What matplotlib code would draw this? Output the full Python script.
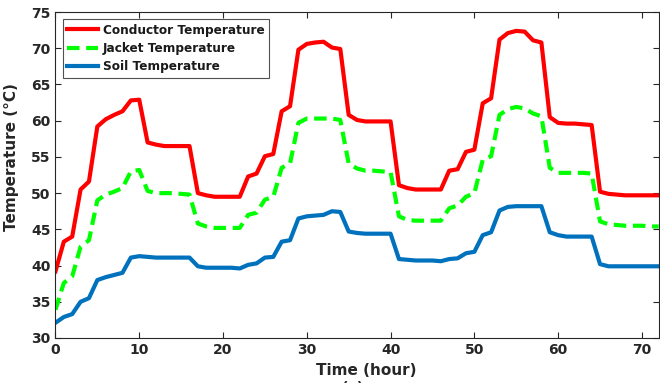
import matplotlib.pyplot as plt

plt.rcParams['font.family'] = ['DejaVu Sans']
plt.rcParams['font.weight'] = 'bold'

# hourly temperatures (degC)
hours = list(range(0, 73))

conductor = [39.2, 43.3, 44.0, 50.5, 51.6, 59.2, 60.2, 60.8, 61.3, 62.8,
             62.9, 57.0, 56.7, 56.5, 56.5, 56.5, 56.5, 50.0, 49.7, 49.5,
             49.5, 49.5, 49.5, 52.3, 52.7, 55.1, 55.4, 61.3, 62.0, 69.8,
             70.6, 70.8, 70.9, 70.1, 69.9, 60.8, 60.1, 59.9, 59.9, 59.9,
             59.9, 51.1, 50.7, 50.5, 50.5, 50.5, 50.5, 53.1, 53.3, 55.7,
             56.0, 62.4, 63.1, 71.2, 72.1, 72.4, 72.3, 71.1, 70.8, 60.5,
             59.7, 59.6, 59.6, 59.5, 59.4, 50.2, 49.9, 49.8, 49.7, 49.7,
             49.7, 49.7, 49.7]

jacket = [33.9, 37.6, 38.5, 42.6, 43.5, 49.0, 49.8, 50.2, 50.7, 53.0,
          53.2, 50.3, 50.0, 50.0, 50.0, 49.9, 49.8, 45.8, 45.4, 45.2,
          45.2, 45.2, 45.2, 47.0, 47.3, 49.1, 49.5, 53.5, 54.1, 59.7,
          60.3, 60.3, 60.3, 60.3, 60.1, 54.1, 53.4, 53.1, 53.1, 53.0,
          52.9, 46.8, 46.3, 46.2, 46.2, 46.2, 46.2, 47.9, 48.3, 49.5,
          50.0, 54.6, 55.1, 60.8, 61.6, 61.9, 61.7, 61.0, 60.6, 53.5,
          52.8, 52.8, 52.8, 52.8, 52.7, 46.1, 45.7, 45.6, 45.5, 45.5,
          45.5, 45.4, 45.4]

soil = [32.1, 32.9, 33.3, 35.0, 35.5, 38.0, 38.4, 38.7, 39.0, 41.1,
        41.3, 41.2, 41.1, 41.1, 41.1, 41.1, 41.1, 39.9, 39.7, 39.7,
        39.7, 39.7, 39.6, 40.1, 40.3, 41.1, 41.2, 43.3, 43.5, 46.5,
        46.8, 46.9, 47.0, 47.5, 47.4, 44.7, 44.5, 44.4, 44.4, 44.4,
        44.4, 40.9, 40.8, 40.7, 40.7, 40.7, 40.6, 40.9, 41.0, 41.7,
        41.9, 44.2, 44.6, 47.6, 48.1, 48.2, 48.2, 48.2, 48.2, 44.6,
        44.2, 44.0, 44.0, 44.0, 44.0, 40.2, 39.9, 39.9, 39.9, 39.9,
        39.9, 39.9, 39.9]

fig = plt.figure(figsize=(6.6, 3.83), dpi=100)
ax = fig.add_axes([0.084, 0.1175, 0.914, 0.851])

ax.plot(hours, conductor, color='#ff0000', lw=3, label='Conductor Temperature')
ax.plot(hours, jacket, color='#00ff00', lw=3, ls=(0, (3, 1.6)), label='Jacket Temperature')
ax.plot(hours, soil, color='#0072bd', lw=3, label='Soil Temperature')

ax.set_xlim(0, 72)
ax.set_ylim(30, 75)
ax.set_xticks(range(0, 71, 10))
ax.set_yticks(range(30, 76, 5))
ax.tick_params(direction='in', top=True, right=True, length=4, width=0.8,
               labelsize=10, labelcolor='#262626', color='#262626')
for lbl in ax.get_xticklabels() + ax.get_yticklabels():
    lbl.set_fontweight('bold')
for s in ax.spines.values():
    s.set_color('#262626')
    s.set_linewidth(0.8)

ax.set_xlabel('Time (hour)', fontsize=11, fontweight='bold', color='#262626')
ax.set_ylabel('Temperature (\u00b0C)', fontsize=11, fontweight='bold', color='#262626')
ax.xaxis.set_label_coords(0.516, -0.077)
ax.yaxis.set_label_coords(-0.061, 0.555)

leg = ax.legend(loc='upper left', bbox_to_anchor=(0.0, 1.0), fontsize=8.7,
                frameon=True, fancybox=False, edgecolor='#262626',
                handlelength=2.6, handletextpad=0.35, labelspacing=0.45,
                borderpad=0.35, borderaxespad=0.6)
leg.get_frame().set_linewidth(0.8)
for t in leg.get_texts():
    t.set_fontweight('bold')
    t.set_color('#1a1a1a')

fig.text(0.535, -0.012, '(a)', ha='center', va='center', fontsize=10, color='#262626')

fig.savefig('out.png', dpi=100)
